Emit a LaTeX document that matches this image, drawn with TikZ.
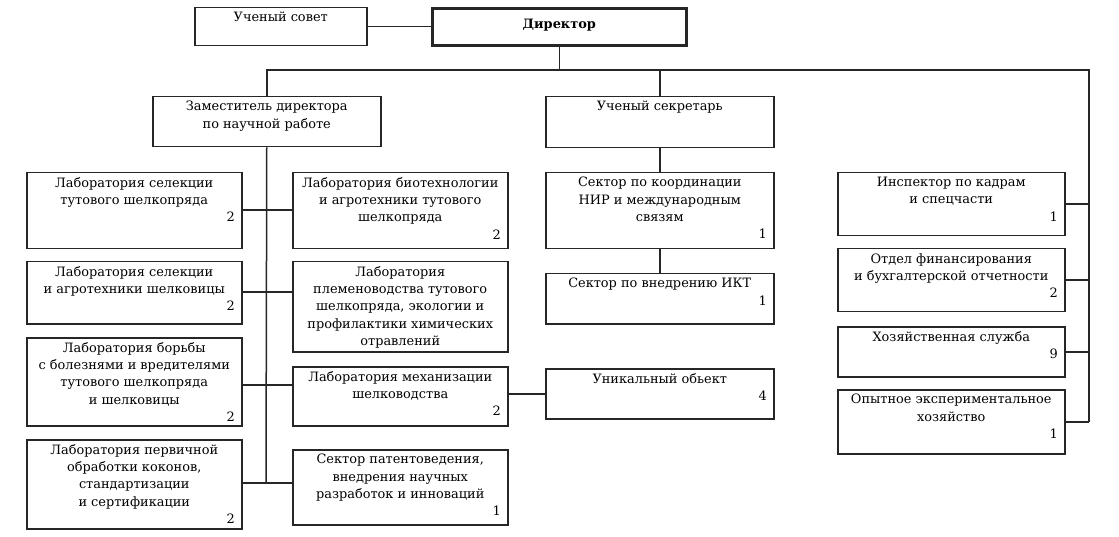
\documentclass[tikz,border=0pt]{standalone}
\usepackage{fontspec}
\setmainfont{DejaVu Serif}
\newcommand{\card}[4]{\parbox[t][#2pt][t]{#1pt}{\centering\vspace*{4.5pt}#3\par
  \if\relax\detokenize{#4}\relax\else\hfill#4\hspace*{7pt}\par\fi}}
\begin{document}
\begin{tikzpicture}[x=1pt, y=-1pt, line width=1.5pt,
    every node/.style={font=\fontsize{12.9}{17.3}\selectfont},
    box/.style={draw=black!85, anchor=north west, inner sep=0pt},
    wire/.style={draw=black!85}]
\useasboundingbox (0,0) rectangle (1119,537);
\node[box, line width=2.6pt] (dir) at (431,7) {\parbox[c][37pt]{254pt}{\centering\bfseries Директор\vspace*{3pt}}};
\node[box] (sovet) at (194,7) {\card{172}{38}{Ученый совет}{}};
\node[box] (zam) at (152,96) {\card{228}{50}{Заместитель директора\\по научной работе}{}};
\node[box] (sekr) at (545,96) {\card{228}{51}{Ученый секретарь}{}};

\node[box] (l1) at (26,172) {\card{215}{76}{Лаборатория селекции\\тутового шелкопряда}{2}};
\node[box] (l2) at (26,261) {\card{215}{62}{Лаборатория селекции\\и агротехники шелковицы}{2}};
\node[box] (l3) at (26,337) {\card{215}{88}{Лаборатория борьбы\\с болезнями и вредителями\\тутового шелкопряда\\и шелковицы}{2}};
\node[box] (l4) at (26,439) {\card{215}{89}{Лаборатория первичной\\обработки коконов,\\стандартизации\\и сертификации}{2}};

\node[box] (m1) at (292,172) {\card{215}{76}{Лаборатория биотехнологии\\и агротехники тутового\\шелкопряда}{2}};
\node[box] (m2) at (292,261) {\card{215}{90}{Лаборатория\\племеноводства тутового\\шелкопряда, экологии и\\профилактики химических\\отравлений}{}};
\node[box] (m3) at (292,366) {\card{215}{59}{Лаборатория механизации\\шелководства}{2}};
\node[box] (m4) at (292,449) {\card{215}{75}{Сектор патентоведения,\\внедрения научных\\разработок и инноваций}{1}};

\node[box] (s1) at (545,172) {\card{228}{76}{Сектор по координации\\НИР и международным\\связям}{1}};
\node[box] (s2) at (545,273) {\card{228}{50}{Сектор по внедрению ИКТ}{1}};
\node[box] (uniq) at (545,368) {\card{228}{50}{Уникальный обьект}{4}};

\node[box] (r1) at (837,172) {\card{227}{63}{Инспектор по кадрам\\и спецчасти}{1}};
\node[box] (r2) at (837,248) {\card{227}{63}{Отдел финансирования\\и бухгалтерской отчетности}{2}};
\node[box] (r3) at (837,326) {\card{227}{50}{Хозяйственная служба}{9}};
\node[box] (r4) at (837,389) {\card{227}{64}{Опытное экспериментальное\\хозяйство}{1}};

\coordinate (bl) at (266,70);
\coordinate (br) at (1089,70);
\coordinate (t1) at (266,210);
\coordinate (t2) at (266,292);
\coordinate (t3) at (266,385);
\coordinate (t4) at (266,483);

\draw[wire] (sovet.east) -- (sovet.east -| dir.west);
\draw[wire] (dir.south) -- (dir.south |- bl);
\draw[wire] (zam.north) |- (br) -- (br |- r4.east);
\draw[wire] (sekr.north) -- (sekr.north |- bl);
\draw[wire] (sekr) -- (s1) -- (s2);
\draw[wire] (zam.south) -- (t4);
\foreach \a/\b/\t in {l1/m1/t1, l2/m2/t2, l3/m3/t3, l4/m4/t4}
  \draw[wire] (\a.east |- \t) -- (\b.west |- \t);
\draw[wire] (m3.east |- uniq.west) -- (uniq.west);
\foreach \r in {r1,r2,r3,r4}
  \draw[wire] (\r.east) -- (\r.east -| br);
\end{tikzpicture}
\end{document}
